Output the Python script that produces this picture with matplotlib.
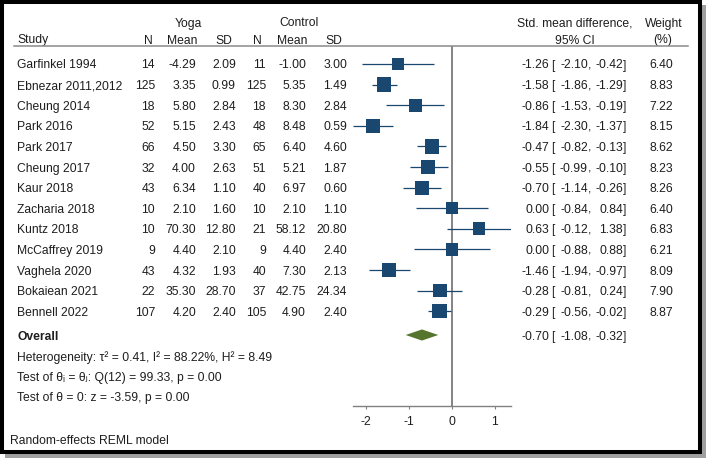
import matplotlib
matplotlib.use("Agg")
import matplotlib.pyplot as plt
from matplotlib.patches import Rectangle
from matplotlib.lines import Line2D
from matplotlib.transforms import blended_transform_factory
import numpy as np

plt.rcParams['font.family'] = ['Liberation Sans', 'DejaVu Sans']

# ---------------- data ----------------
studies = ["Garfinkel 1994", "Ebnezar 2011,2012", "Cheung 2014", "Park 2016", "Park 2017",
           "Cheung 2017", "Kaur 2018", "Zacharia 2018", "Kuntz 2018", "McCaffrey 2019",
           "Vaghela 2020", "Bokaiean 2021", "Bennell 2022"]
yoga_n = [14, 125, 18, 52, 66, 32, 43, 10, 10, 9, 43, 22, 107]
yoga_mean = [-4.29, 3.35, 5.80, 5.15, 4.50, 4.00, 6.34, 2.10, 70.30, 4.40, 4.32, 35.30, 4.20]
yoga_sd = [2.09, 0.99, 2.84, 2.43, 3.30, 2.63, 1.10, 1.60, 12.80, 2.10, 1.93, 28.70, 2.40]
ctrl_n = [11, 125, 18, 48, 65, 51, 40, 10, 21, 9, 40, 37, 105]
ctrl_mean = [-1.00, 5.35, 8.30, 8.48, 6.40, 5.21, 6.97, 2.10, 58.12, 4.40, 7.30, 42.75, 4.90]
ctrl_sd = [3.00, 1.49, 2.84, 0.59, 4.60, 1.87, 0.60, 1.10, 20.80, 2.40, 2.13, 24.34, 2.40]
smd = [-1.26, -1.58, -0.86, -1.84, -0.47, -0.55, -0.70, 0.00, 0.63, 0.00, -1.46, -0.28, -0.29]
ci_lo = [-2.10, -1.86, -1.53, -2.30, -0.82, -0.99, -1.14, -0.84, -0.12, -0.88, -1.94, -0.81, -0.56]
ci_hi = [-0.42, -1.29, -0.19, -1.37, -0.13, -0.10, -0.26, 0.84, 1.38, 0.88, -0.97, 0.24, -0.02]
weight = [6.40, 8.83, 7.22, 8.15, 8.62, 8.23, 8.26, 6.40, 6.83, 6.21, 8.09, 7.90, 8.87]
overall_est, overall_lo, overall_hi = -0.70, -1.08, -0.32
het_text = "Heterogeneity: \u03c4\u00b2 = 0.41, I\u00b2 = 88.22%, H\u00b2 = 8.49"
test1_text = "Test of \u03b8\u1d62 = \u03b8\u2c7c: Q(12) = 99.33, p = 0.00"
test2_text = "Test of \u03b8 = 0: z = -3.59, p = 0.00"
xticks = [-2, -1, 0, 1]

# ---------------- layout ----------------
W, H = 708, 461
fig = plt.figure(figsize=(W / 100, H / 100), dpi=100)
fig.patch.set_facecolor("white")

def fx(px):
    return px / W

def fy(py):
    return 1 - py / H

ROW0, DROW = 64.0, 20.6
def row(py):
    return (py - ROW0) / DROW

navy = "#1a476f"
green = "#55752f"
txt = "#1e1e1e"
gray = "#6e6e6e"
fs = 8.75

# border with shadow
fig.add_artist(Rectangle((fx(5), fy(457.5)), fx(700.5), 452.5 / H, transform=fig.transFigure,
                         facecolor="#a0a0a0", edgecolor="none", zorder=-20))
fig.add_artist(Rectangle((fx(2), fy(452)), fx(698), 450 / H, transform=fig.transFigure,
                         facecolor="white", edgecolor="black", linewidth=2.9, zorder=-19))

x_lo_lim = min(ci_lo)
x_hi_lim = max(ci_hi)
px_per_unit = 42.9
x0_px = 452.0
left_px = x0_px + x_lo_lim * px_per_unit
right_px = x0_px + x_hi_lim * px_per_unit
top_py, axis_py = 46.0, 406.0

ax = fig.add_axes([fx(left_px), fy(axis_py), fx(right_px - left_px), (axis_py - top_py) / H])
ax.patch.set_visible(False)
ax.set_xlim(x_lo_lim, x_hi_lim)
ax.set_ylim(row(axis_py), row(top_py))
for s in ["top", "left", "right"]:
    ax.spines[s].set_visible(False)
ax.spines["bottom"].set_color("#808080")
ax.spines["bottom"].set_linewidth(1.0)
ax.set_yticks([])
ax.set_xticks(xticks)
ax.set_xticklabels([str(t) for t in xticks])
ax.tick_params(axis="x", direction="out", length=2.5, width=0.8, color="#808080",
               labelsize=fs, labelcolor=txt, pad=4.5)

# no-effect line
ax.axvline(0, color=gray, linewidth=1.2, zorder=1)

ys = np.arange(len(studies))
# CIs and squares
ax.hlines(ys, ci_lo, ci_hi, color=navy, linewidth=0.9, zorder=2)
side_pt = 4.9 * np.sqrt(np.array(weight)) * 0.72
ax.scatter(smd, ys, s=side_pt ** 2, marker="s", color=navy, edgecolors="none", zorder=3)

# overall diamond
y_ov = row(335)
h = 0.27
ax.fill([overall_lo, overall_est, overall_hi, overall_est], [y_ov, y_ov - h, y_ov, y_ov + h],
        color=green, edgecolor="none", zorder=3)

tr = blended_transform_factory(fig.transFigure, ax.transData)

def put(xpx, y, s, ha="right", **kw):
    ax.text(fx(xpx), y, s, transform=tr, ha=ha, va="center_baseline", fontsize=fs, color=txt, **kw)

# header
yh1, yh2 = row(22), row(39)
put(188, yh1, "Yoga", ha="center")
put(299, yh1, "Control", ha="center")
put(17, yh2, "Study", ha="left")
for xp, lab in [(153, "N"), (197, "Mean"), (232, "SD"), (262, "N"), (307, "Mean"), (342, "SD")]:
    put(xp, yh2, lab)
put(575, yh1, "Std. mean difference,", ha="center")
put(575, yh2, "95% CI", ha="center")
put(664, yh1, "Weight", ha="center")
put(662.5, yh2, "(%)", ha="center")
fig.add_artist(Line2D([fx(14), fx(688)], [fy(46), fy(46)], color="#8a8a8a", linewidth=1.1,
                      transform=fig.transFigure, zorder=5))

def put_ci(y, est, lo, hi):
    put(549, y, f"{est:.2f}")
    put(551, y, "[", ha="left")
    put(588, y, f"{lo:.2f}")
    put(588, y, ",", ha="left")
    put(623, y, f"{hi:.2f}")
    put(623, y, "]", ha="left")

for i, name in enumerate(studies):
    y = ys[i]
    put(17, y, name, ha="left")
    put(155, y, f"{yoga_n[i]}")
    put(196, y, f"{yoga_mean[i]:.2f}")
    put(236, y, f"{yoga_sd[i]:.2f}")
    put(266, y, f"{ctrl_n[i]}")
    put(306, y, f"{ctrl_mean[i]:.2f}")
    put(347, y, f"{ctrl_sd[i]:.2f}")
    put_ci(y, smd[i], ci_lo[i], ci_hi[i])
    put(673, y, f"{weight[i]:.2f}")

put(17, y_ov, "Overall", ha="left", fontweight="bold")
put_ci(y_ov, overall_est, overall_lo, overall_hi)
put(17, row(356), het_text, ha="left")
put(17, row(376), test1_text, ha="left")
put(17, row(396), test2_text, ha="left")
put(10, row(439), "Random-effects REML model", ha="left")

fig.savefig("out.png", dpi=100)
